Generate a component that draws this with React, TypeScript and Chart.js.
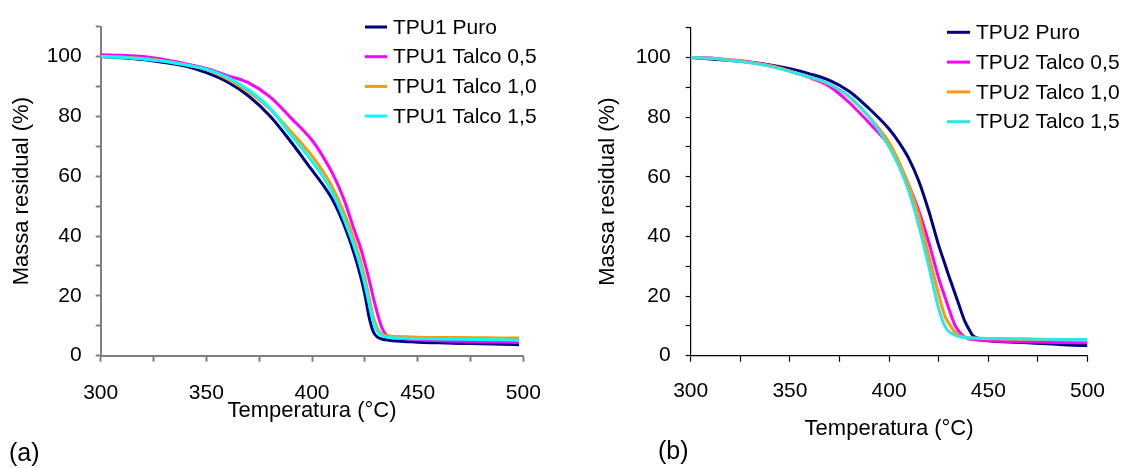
import React, { useEffect, useRef } from "react";
import { Chart, registerables } from "chart.js";

Chart.register(...registerables);

const FONT = "'Liberation Sans', Arial, Helvetica, sans-serif";

// ---------- Chart (a): TPU1 ----------
const tempsA = [300, 310, 320, 330, 340, 350, 360, 370, 380, 390, 400, 405, 410, 415, 420, 423, 425, 427, 429, 431, 433, 435, 438, 440, 445, 450, 460, 470, 480, 490, 498];
const tpu1Puro = [100, 99.6, 99, 98, 96.8, 94.6, 91.5, 86.8, 80.2, 71.5, 62, 57.3, 51.8, 44, 34, 26.5, 20.5, 13, 8, 6.2, 5.6, 5.3, 5, 4.9, 4.7, 4.5, 4.3, 4.1, 4, 3.8, 3.7];
const tpu1Talco05 = [100.6, 100.4, 100, 99, 97.6, 96, 93.6, 91.2, 86.6, 79.5, 72, 66.8, 60.5, 52.5, 42, 36, 31, 25.5, 19.5, 14, 9.5, 7, 6.2, 6, 5.6, 5.3, 5, 4.8, 4.7, 4.6, 4.5];
const tpu1Talco10 = [100, 99.8, 99.3, 98.5, 97.3, 95.6, 92.5, 88.2, 82.5, 75, 66.8, 61.8, 55.8, 48, 38.5, 31.5, 26, 19.5, 13, 9, 7.2, 6.7, 6.5, 6.4, 6.3, 6.2, 6.1, 6.1, 6, 5.9, 5.9];
const tpu1Talco15 = [100, 99.7, 99.2, 98.4, 97.2, 95.8, 93, 88.8, 82.8, 73.8, 65, 60, 54, 46, 36.5, 29.5, 24, 17.5, 11.5, 8, 6.8, 6.3, 6, 5.9, 5.8, 5.7, 5.6, 5.5, 5.4, 5.3, 5.2];
const labelsA = ["TPU1 Puro", "TPU1 Talco 0,5", "TPU1 Talco 1,0", "TPU1 Talco 1,5"];
const colorsA = ["#000080", "#FF00FF", "#FF9900", "#00FFFF"];

// ---------- Chart (b): TPU2 ----------
const tempsB = [300, 310, 320, 330, 340, 350, 360, 370, 380, 390, 400, 405, 410, 415, 420, 425, 428, 430, 433, 435, 438, 440, 442, 445, 450, 460, 470, 480, 490, 500];
const tpu2Puro = [100, 99.5, 99, 98.4, 97.5, 96.2, 94.5, 92.3, 88.6, 82.8, 76, 71.5, 66, 58.5, 48.5, 37, 31, 27, 21.3, 17.5, 11.8, 9.2, 6.9, 5.8, 5, 4.6, 4.3, 4, 3.6, 3.4];
const tpu2Talco05 = [100, 99.8, 99.2, 98.5, 97.3, 95.4, 93.2, 90.3, 84.8, 78, 70.5, 64.5, 57, 48.5, 38, 26, 20, 16, 10.5, 8.3, 6.3, 5.7, 5.5, 5.2, 5, 4.8, 4.7, 4.5, 4.4, 4.3];
const tpu2Talco10 = [100, 99.7, 99.1, 98.3, 97.2, 95.5, 93.4, 91, 86.8, 80, 71.5, 65, 57, 47, 33.5, 20.5, 13.5, 11, 8, 7, 6.2, 6, 5.9, 5.8, 5.7, 5.6, 5.5, 5.4, 5.3, 5.2];
const tpu2Talco15 = [100, 99.7, 99, 98.2, 97, 95.3, 93.4, 91, 86.8, 80, 70, 63.5, 55, 43.5, 30, 15.8, 10, 8.2, 7, 6.5, 6.1, 6, 5.95, 5.9, 5.8, 5.7, 5.6, 5.5, 5.4, 5.4];
const labelsB = ["TPU2 Puro", "TPU2 Talco 0,5", "TPU2 Talco 1,0", "TPU2 Talco 1,5"];
const colorsB = ["#000080", "#FF00FF", "#FF9900", "#2EE6E6"];

// ---------- Axes ----------
const xMin = 300;
const xMax = 500;
const xStep = 25;
const xLabelStep = 50;
const yMin = 0;
const yMax = 110;
const yStep = 10;
const yLabelStep = 20;
const xTitle = "Temperatura (°C)";
const yTitle = "Massa residual (%)";

const legendPlugin = {
  id: "customLegend",
  afterDraw(chart: any, _args: any, opts: any) {
    const ctx = chart.ctx;
    ctx.save();
    chart.data.datasets.forEach((ds: any, i: number) => {
      const y = opts.y0 + i * opts.dy;
      ctx.strokeStyle = ds.borderColor;
      ctx.lineWidth = 3;
      ctx.beginPath();
      ctx.moveTo(opts.x1, y);
      ctx.lineTo(opts.x2, y);
      ctx.stroke();
      ctx.fillStyle = "#000";
      ctx.font = `21px ${FONT}`;
      ctx.textBaseline = "middle";
      ctx.textAlign = "left";
      ctx.fillText(ds.label, opts.tx, y + 1);
    });
    ctx.restore();
  },
};

type Geo = {
  yWidth: number;
  padTop: number;
  padRight: number;
  xHeight: number;
  axisColor: string;
  axisWidth: number;
  yTitlePad: number;
  xTitlePad: number;
  xTickPad: number;
  yTickPad: number;
  legend: { x1: number; x2: number; tx: number; y0: number; dy: number };
};

function buildConfig(temps: number[], series: number[][], labels: string[], colors: string[], g: Geo): any {
  const datasets = series.map((vals, i) => ({
    label: labels[i],
    data: temps.map((t, j) => ({ x: t, y: vals[j] })),
    borderColor: colors[i],
    backgroundColor: colors[i],
    borderWidth: 3,
    pointRadius: 0,
    fill: false,
    cubicInterpolationMode: "monotone",
    order: series.length - i,
  }));
  return {
    type: "line",
    data: { datasets },
    plugins: [legendPlugin],
    options: {
      animation: false,
      responsive: false,
      maintainAspectRatio: false,
      layout: { padding: { left: 0, top: g.padTop, right: g.padRight, bottom: 0 } },
      plugins: {
        legend: { display: false },
        tooltip: { enabled: false },
        customLegend: g.legend,
      },
      scales: {
        x: {
          type: "linear",
          min: xMin,
          max: xMax,
          afterFit: (s: any) => {
            s.height = g.xHeight;
          },
          ticks: {
            stepSize: xStep,
            autoSkip: false,
            maxRotation: 0,
            padding: g.xTickPad,
            color: "#000",
            font: { family: FONT, size: 21 },
            callback: (v: any) => (Number(v) % xLabelStep === 0 ? String(v) : ""),
          },
          grid: {
            drawOnChartArea: false,
            drawTicks: true,
            tickLength: 6,
            tickWidth: g.axisWidth,
            tickColor: g.axisColor,
          },
          border: { display: true, color: g.axisColor, width: g.axisWidth },
          title: {
            display: true,
            text: xTitle,
            color: "#000",
            font: { family: FONT, size: 22 },
            padding: { top: 0, bottom: g.xTitlePad },
          },
        },
        y: {
          type: "linear",
          min: yMin,
          max: yMax,
          afterFit: (s: any) => {
            s.width = g.yWidth;
          },
          ticks: {
            stepSize: yStep,
            autoSkip: false,
            padding: g.yTickPad,
            color: "#000",
            font: { family: FONT, size: 21 },
            callback: (v: any) => (Number(v) % yLabelStep === 0 && Number(v) <= 100 ? String(v) : ""),
          },
          grid: {
            drawOnChartArea: false,
            drawTicks: true,
            tickLength: 5,
            tickWidth: g.axisWidth,
            tickColor: g.axisColor,
          },
          border: { display: true, color: g.axisColor, width: g.axisWidth },
          title: {
            display: true,
            text: yTitle,
            color: "#000",
            font: { family: FONT, size: 22 },
            padding: { top: g.yTitlePad, bottom: 0 },
          },
        },
      },
    },
  };
}

const geoA: Geo = {
  yWidth: 100.7,
  padTop: 14,
  padRight: 37.7,
  xHeight: 112.3,
  axisColor: "#808080",
  axisWidth: 2,
  yTitlePad: 8.8,
  xTitlePad: 43.8,
  xTickPad: 19,
  yTickPad: 14,
  legend: { x1: 365, x2: 387, tx: 393, y0: 27, dy: 29.7 },
};

const geoB: Geo = {
  yWidth: 129.7,
  padTop: 24,
  padRight: 24,
  xHeight: 112.3,
  axisColor: "#000000",
  axisWidth: 1.2,
  yTitlePad: 33.8,
  xTitlePad: 25.8,
  xTickPad: 17,
  yTickPad: 15,
  legend: { x1: 386, x2: 409, tx: 415, y0: 32.3, dy: 29.8 },
};

function TgaChart(props: { config: () => any; left: number }) {
  const ref = useRef<HTMLCanvasElement | null>(null);
  useEffect(() => {
    if (!ref.current) return;
    const chart = new Chart(ref.current, props.config());
    return () => chart.destroy();
  }, []);
  return (
    <canvas
      ref={ref}
      width={561}
      height={468}
      style={{ position: "absolute", left: props.left, top: 0, width: 561, height: 468 }}
    />
  );
}

export default function App() {
  return (
    <div style={{ position: "absolute", left: 0, top: 0, width: 1122, height: 468, background: "#fff", overflow: "hidden" }}>
      <TgaChart left={0} config={() => buildConfig(tempsA, [tpu1Puro, tpu1Talco05, tpu1Talco10, tpu1Talco15], labelsA, colorsA, geoA)} />
      <TgaChart left={561} config={() => buildConfig(tempsB, [tpu2Puro, tpu2Talco05, tpu2Talco10, tpu2Talco15], labelsB, colorsB, geoB)} />
      <div style={{ position: "absolute", left: 9, top: 440, fontFamily: FONT, fontSize: 25, lineHeight: "25px", color: "#000" }}>(a)</div>
      <div style={{ position: "absolute", left: 658, top: 438, fontFamily: FONT, fontSize: 25, lineHeight: "25px", color: "#000" }}>(b)</div>
    </div>
  );
}
